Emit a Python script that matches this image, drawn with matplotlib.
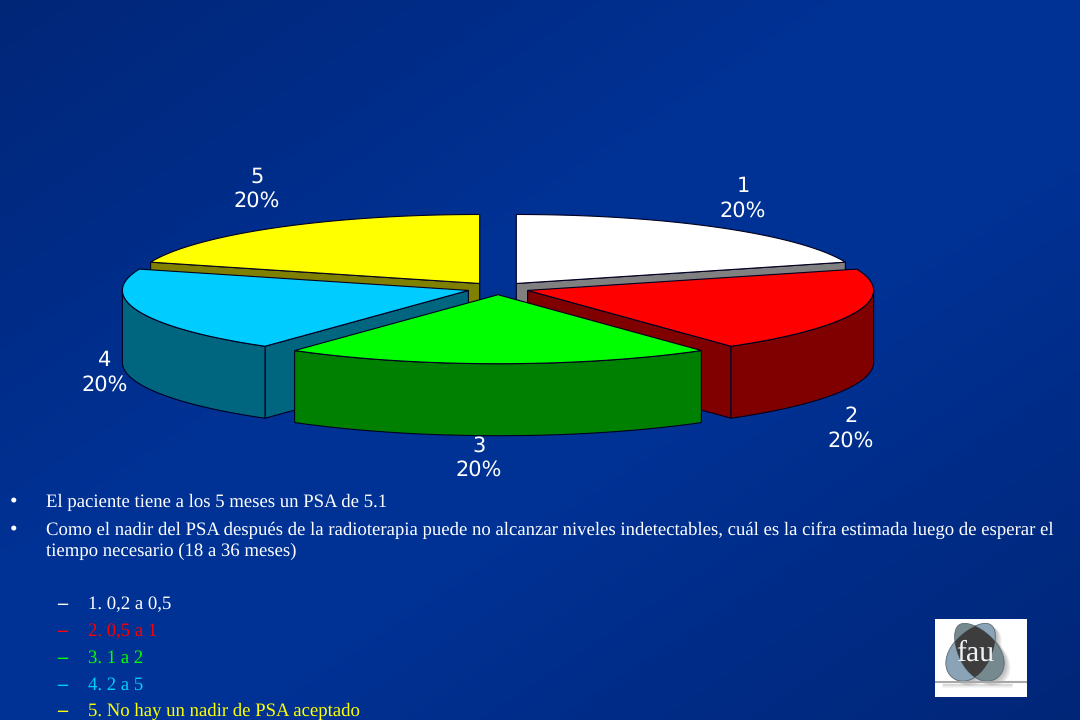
import numpy as np
import matplotlib
matplotlib.use("Agg")
import matplotlib.pyplot as plt
from matplotlib.patches import Polygon, Rectangle

plt.rcParams["text.hinting"] = "no_hinting"

# ---- data ----
categories = ["1", "2", "3", "4", "5"]
values = [20, 20, 20, 20, 20]
top_colors = ["#ffffff", "#ff0000", "#00ff00", "#00ccff", "#ffff00"]
side_colors = ["#808080", "#800000", "#008000", "#006680", "#808000"]
bullets = [
    "El paciente tiene a los 5 meses un PSA de 5.1",
    "Como el nadir del PSA después de la radioterapia puede no alcanzar niveles indetectables, cuál es la cifra estimada luego de esperar el\ntiempo necesario (18 a 36 meses)",
]
answers = ["1. 0,2 a 0,5", "2. 0,5 a 1", "3. 1 a 2", "4. 2 a 5", "5. No hay un nadir de PSA aceptado"]
answer_colors = ["#ffffff", "#ff0000", "#00ff00", "#00ccff", "#ffff00"]

# ---- layout ----
CX, CY = 498.0, 288.5
A, B = 346.0, 69.0
DEPTH = 72.0
EXPLODE = 0.09
label_pos = [(743, 199), (851, 429), (479, 458), (105, 373), (257, 189)]

fig = plt.figure(figsize=(10.8, 7.2), dpi=100)
ax = fig.add_axes([0, 0, 1, 1])
ax.set_xlim(0, 1080)
ax.set_ylim(720, 0)
ax.axis("off")

# background: brightest along the top-right to bottom-left diagonal
yy, xx = np.mgrid[0:1:360j, 0:1:540j]
t = np.clip(1.2 * (1 - np.abs(xx + yy - 1.0)), 0, 1)
dark = np.array([0, 38, 120]) / 255
light = np.array([0, 50, 150]) / 255
bg = dark + (light - dark)[None, None, :] * t[..., None]
ax.imshow(bg, extent=(0, 1080, 720, 0), aspect="auto", zorder=0, interpolation="bilinear")


def pt(cx, cy, deg):
    r = np.radians(deg)
    return cx + A * np.sin(r), cy - B * np.cos(r)


def arc(cx, cy, a0, a1, n=80):
    r = np.radians(np.linspace(a0, a1, n))
    return np.column_stack([cx + A * np.sin(r), cy - B * np.cos(r)])


fractions = np.array(values, float) / sum(values)
edges = np.concatenate([[0], np.cumsum(fractions) * 360])
draw_order = [4, 0, 3, 1, 2]
z = 5
EC = "#000020"
LW = 0.8
for i in draw_order:
    a0, a1 = edges[i], edges[i + 1]
    mid = np.radians((a0 + a1) / 2)
    cx = CX + EXPLODE * A * np.sin(mid)
    cy = CY - EXPLODE * B * np.cos(mid)
    # cut faces that look toward the viewer
    for ang, normal in ((a0, a0 - 90), (a1, a1 + 90)):
        if np.cos(np.radians(normal)) < -1e-6:
            px, py = pt(cx, cy, ang)
            ax.add_patch(Polygon([(cx, cy), (px, py), (px, py + DEPTH), (cx, cy + DEPTH)],
                                 closed=True, fc=side_colors[i], ec=EC, lw=LW, zorder=z))
    # outer wall, front half only
    f0, f1 = max(a0, 90), min(a1, 270)
    if f1 > f0:
        top = arc(cx, cy, f0, f1)
        bottom = top[::-1] + [0, DEPTH]
        ax.add_patch(Polygon(np.vstack([top, bottom]), closed=True,
                             fc=side_colors[i], ec=EC, lw=LW, zorder=z))
    # top face
    ax.add_patch(Polygon(np.vstack([[cx, cy], arc(cx, cy, a0, a1)]), closed=True,
                         fc=top_colors[i], ec=EC, lw=LW, zorder=z + 0.5))
    z += 1

# data labels
for cat, v, (lx, ly) in zip(categories, fractions, label_pos):
    ax.text(lx, ly, f"{cat}\n{v:.0%}", color="white", fontsize=15, family="DejaVu Sans",
            ha="center", va="center", linespacing=1.28, zorder=20)

# slide text
serif = "Liberation Serif"
TS = 13.47
ax.text(10, 507, "•", color="white", fontsize=TS + 2, family=serif, ha="left", va="baseline")
ax.text(46, 506.5, bullets[0], color="white", fontsize=TS, family=serif, ha="left", va="baseline")
ax.text(10, 535, "•", color="white", fontsize=TS + 2, family=serif, ha="left", va="baseline")
for line, y in zip(bullets[1].split("\n"), (534.5, 555.5)):
    ax.text(46, y, line, color="white", fontsize=TS, family=serif, ha="left", va="baseline")
for ans, col, y in zip(answers, answer_colors, (609, 636, 663, 690, 715.5)):
    ax.text(57, y, "–", color=col, fontsize=TS + 1, family=serif, weight="bold", ha="left", va="baseline")
    ax.text(88, y, ans, color=col, fontsize=TS, family=serif, ha="left", va="baseline")


# logo
def petal(top, bottom, half_width=19.5, fat=0.18, dx=0.0, dy=0.0):
    top, bottom = np.array(top, float), np.array(bottom, float)
    centre = (top + bottom) / 2 + [dx, dy]
    axis = (bottom - top) / 2
    normal = np.array([-axis[1], axis[0]]) / np.hypot(*axis)
    s = np.linspace(0, 2 * np.pi, 120)
    u = np.cos(s)
    v = half_width * np.sin(s) * (1 + fat * u)
    return centre + np.outer(u, axis) + np.outer(v, normal)


ax.add_patch(Rectangle((935, 619), 92, 78, fc="white", ec="none", zorder=10))
LEFT = ((991, 625), (953, 678))
RIGHT = ((959, 625), (997, 678))
for k in range(1, 8):
    for tip, tail in (LEFT, RIGHT):
        ax.add_patch(Polygon(petal(tip, tail, dx=k * 0.9, dy=k * 0.7), closed=True,
                             fc="#555555", alpha=0.07, ec="none", zorder=10.5))
ell_a = Polygon(petal(*LEFT), closed=True, fc="#8ba3b6", ec="#5a6a75", lw=0.6, zorder=11)
ell_b = Polygon(petal(*RIGHT), closed=True, fc="#75898f", ec="#5a6a75", lw=0.6, zorder=11.1)
ax.add_patch(ell_a)
ax.add_patch(ell_b)
overlap = Polygon(petal(*RIGHT), closed=True, fc="#3d3d3d", ec="none", zorder=11.2)
ax.add_patch(overlap)
overlap.set_clip_path(ell_a)
for k, a in zip(range(1, 5), (0.25, 0.18, 0.1, 0.05)):
    ax.plot([942, 1012], [682.5 + k, 682.5 + k], color="#777777", alpha=a, lw=1, zorder=10.6, solid_capstyle="butt")
ax.plot([935, 1027], [681.5, 681.5], color="#a8a8a8", lw=1.5, zorder=11.3, solid_capstyle="butt")
ax.text(975, 653, "fau", color="#eef2f4", fontsize=21.5, family=serif, ha="center", va="center", zorder=12)

fig.savefig("out.png", dpi=100)
